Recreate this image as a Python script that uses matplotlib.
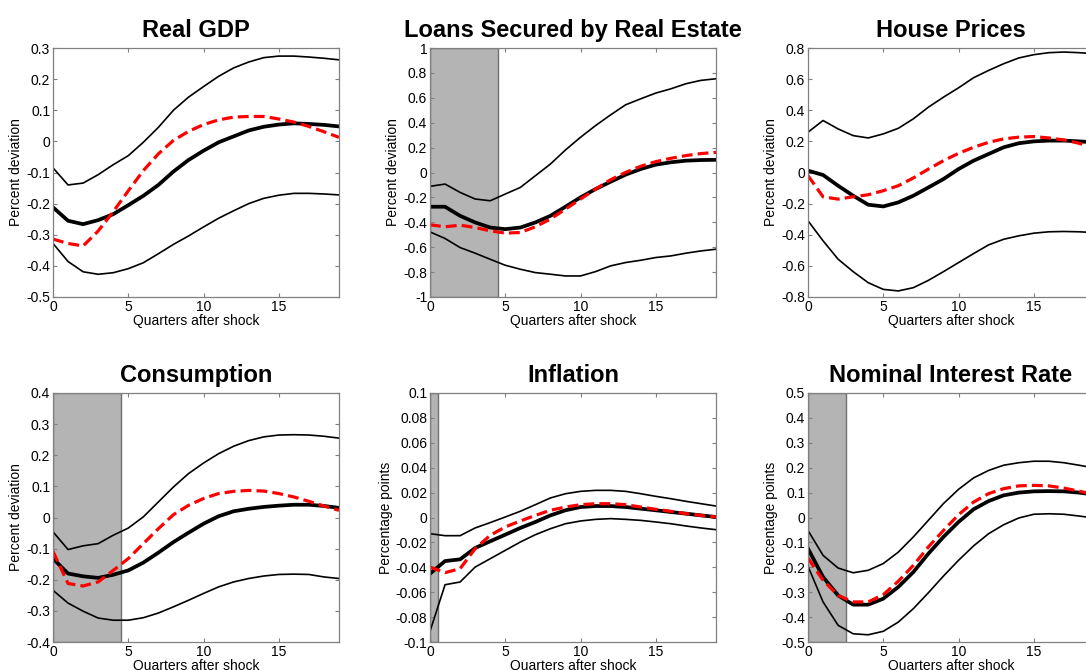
import numpy as np
import matplotlib
matplotlib.use('Agg')
import matplotlib.pyplot as plt

plt.rcParams['font.family'] = ['Liberation Sans', 'DejaVu Sans']

# -------------------------------
# Impulse responses, quarters 0..19
# thick = median, thin = bands, red dashed = alternative model
# -------------------------------
quarters = np.arange(20)

gdp_upper = [-0.085, -0.14, -0.134, -0.107, -0.075, -0.046, -0.003, 0.045, 0.10, 0.142,
             0.176, 0.209, 0.236, 0.255, 0.269, 0.274, 0.274, 0.271, 0.267, 0.262]
gdp_median = [-0.212, -0.255, -0.266, -0.253, -0.234, -0.205, -0.175, -0.14, -0.097, -0.06,
              -0.03, -0.003, 0.016, 0.035, 0.047, 0.054, 0.058, 0.056, 0.053, 0.048]
gdp_red = [-0.314, -0.328, -0.336, -0.288, -0.226, -0.159, -0.094, -0.04, 0.003, 0.032,
           0.054, 0.069, 0.078, 0.08, 0.08, 0.072, 0.062, 0.048, 0.031, 0.013]
gdp_lower = [-0.328, -0.386, -0.419, -0.427, -0.422, -0.409, -0.39, -0.361, -0.331, -0.304,
             -0.275, -0.247, -0.223, -0.2, -0.183, -0.173, -0.167, -0.167, -0.169, -0.172]

loans_upper = [-0.111, -0.093, -0.16, -0.213, -0.227, -0.173, -0.12, -0.026, 0.068, 0.181,
               0.283, 0.377, 0.463, 0.544, 0.592, 0.638, 0.672, 0.713, 0.74, 0.753]
loans_median = [-0.275, -0.275, -0.348, -0.401, -0.442, -0.455, -0.442, -0.401, -0.348, -0.275,
                -0.2, -0.133, -0.074, -0.017, 0.028, 0.063, 0.082, 0.095, 0.1, 0.102]
loans_red = [-0.42, -0.436, -0.423, -0.442, -0.468, -0.487, -0.482, -0.436, -0.374, -0.294,
             -0.213, -0.133, -0.058, 0.001, 0.05, 0.087, 0.114, 0.136, 0.152, 0.162]
loans_lower = [-0.477, -0.53, -0.603, -0.648, -0.697, -0.745, -0.777, -0.804, -0.817, -0.831,
               -0.831, -0.796, -0.75, -0.723, -0.705, -0.683, -0.67, -0.648, -0.63, -0.616]

house_upper = [0.259, 0.334, 0.28, 0.237, 0.222, 0.248, 0.284, 0.345, 0.42, 0.484,
               0.544, 0.609, 0.656, 0.699, 0.736, 0.757, 0.77, 0.774, 0.77, 0.763]
house_median = [0.012, -0.016, -0.085, -0.149, -0.207, -0.218, -0.192, -0.149, -0.096, -0.042,
                0.022, 0.076, 0.119, 0.162, 0.188, 0.2, 0.205, 0.205, 0.2, 0.194]
house_red = [-0.02, -0.156, -0.171, -0.156, -0.143, -0.117, -0.085, -0.035, 0.022, 0.076,
             0.123, 0.162, 0.194, 0.216, 0.227, 0.231, 0.222, 0.209, 0.188, 0.162]
house_lower = [-0.31, -0.439, -0.557, -0.637, -0.708, -0.751, -0.761, -0.74, -0.693, -0.637,
               -0.579, -0.521, -0.465, -0.429, -0.407, -0.39, -0.381, -0.379, -0.381, -0.386]

cons_upper = [-0.046, -0.103, -0.091, -0.084, -0.057, -0.034, 0.002, 0.05, 0.098, 0.141,
              0.175, 0.205, 0.229, 0.247, 0.259, 0.265, 0.266, 0.265, 0.261, 0.255]
cons_median = [-0.132, -0.18, -0.189, -0.194, -0.184, -0.17, -0.145, -0.113, -0.079, -0.049,
               -0.02, 0.004, 0.02, 0.028, 0.034, 0.038, 0.041, 0.041, 0.037, 0.031]
cons_red = [-0.109, -0.212, -0.22, -0.207, -0.17, -0.132, -0.084, -0.036, 0.009, 0.039,
            0.061, 0.077, 0.084, 0.087, 0.085, 0.077, 0.066, 0.052, 0.037, 0.023]
cons_lower = [-0.234, -0.275, -0.301, -0.323, -0.33, -0.33, -0.322, -0.307, -0.287, -0.266,
              -0.244, -0.223, -0.207, -0.196, -0.188, -0.183, -0.182, -0.183, -0.191, -0.196]

infl_upper = [-0.013, -0.0146, -0.0146, -0.0084, -0.0041, 0.0004, 0.005, 0.0103, 0.0157, 0.0191,
              0.021, 0.0218, 0.0218, 0.021, 0.0191, 0.017, 0.0151, 0.013, 0.0111, 0.0092]
infl_median = [-0.0451, -0.035, -0.0336, -0.0245, -0.0191, -0.0138, -0.0084, -0.0036, 0.0017, 0.0058,
               0.0084, 0.0092, 0.0092, 0.0084, 0.0071, 0.0058, 0.0044, 0.0031, 0.0017, 0.0004]
infl_red = [-0.0398, -0.0443, -0.0411, -0.025, -0.0143, -0.0076, -0.0028, 0.0017, 0.0058, 0.0084,
            0.0103, 0.0111, 0.0111, 0.0103, 0.0084, 0.0066, 0.005, 0.0031, 0.0017, 0.0004]
infl_lower = [-0.0914, -0.054, -0.0518, -0.0398, -0.0331, -0.0264, -0.0197, -0.0138, -0.009, -0.005,
              -0.0028, -0.0015, -0.0009, -0.0015, -0.0023, -0.0036, -0.005, -0.0068, -0.0084, -0.0098]

rate_upper = [-0.052, -0.152, -0.203, -0.222, -0.212, -0.185, -0.139, -0.078, -0.011, 0.056,
              0.113, 0.159, 0.189, 0.21, 0.22, 0.226, 0.226, 0.22, 0.21, 0.199]
rate_median = [-0.125, -0.239, -0.313, -0.35, -0.35, -0.326, -0.279, -0.219, -0.145, -0.078,
               -0.018, 0.033, 0.066, 0.089, 0.1, 0.105, 0.106, 0.105, 0.1, 0.092]
rate_red = [-0.163, -0.252, -0.313, -0.339, -0.339, -0.31, -0.256, -0.192, -0.118, -0.052,
            0.011, 0.062, 0.096, 0.116, 0.127, 0.129, 0.127, 0.118, 0.106, 0.092]
rate_lower = [-0.196, -0.339, -0.433, -0.467, -0.471, -0.457, -0.42, -0.366, -0.302, -0.235,
              -0.172, -0.114, -0.065, -0.029, -0.002, 0.013, 0.015, 0.013, 0.006, -0.002]

titles = ['Real GDP', 'Loans Secured by Real Estate', 'House Prices',
          'Consumption', 'Inflation', 'Nominal Interest Rate']
ylabels = ['Percent deviation', 'Percent deviation', 'Percent deviation',
           'Percent deviation', 'Percentage points', 'Percentage points']
ylims = [(-0.5, 0.3), (-1, 1), (-0.8, 0.8), (-0.4, 0.4), (-0.1, 0.1), (-0.5, 0.5)]
ysteps = [0.1, 0.2, 0.2, 0.1, 0.02, 0.1]
shade_end = [None, 4.5, None, 4.5, 0.5, 2.5]

series = [
    (gdp_upper, gdp_median, gdp_red, gdp_lower),
    (loans_upper, loans_median, loans_red, loans_lower),
    (house_upper, house_median, house_red, house_lower),
    (cons_upper, cons_median, cons_red, cons_lower),
    (infl_upper, infl_median, infl_red, infl_lower),
    (rate_upper, rate_median, rate_red, rate_lower),
]

# -------------------------------
# Layout (right column runs off the canvas, as in the source image)
# -------------------------------
fig = plt.figure(figsize=(10.86, 6.70), dpi=100)
lefts = [53, 430, 808]
tops = [48, 393]
ax_w, ax_h = 286, 249

for i, (upper, median, red, lower) in enumerate(series):
    row, col = divmod(i, 3)
    l = lefts[col] / 1086
    b = (670 - tops[row] - ax_h) / 670
    ax = fig.add_axes([l, b, ax_w / 1086, ax_h / 670])

    if shade_end[i] is not None:
        ax.axvspan(0, shade_end[i], facecolor='#b4b4b4', edgecolor='#707070',
                   linewidth=1.0, zorder=0)

    ax.plot(quarters, upper, color='black', linewidth=1.2)
    ax.plot(quarters, lower, color='black', linewidth=1.2)
    ax.plot(quarters, median, color='black', linewidth=2.7)
    ax.plot(quarters, red, color='#ff0000', linewidth=2.3, linestyle=(0, (3.4, 1.6)))

    ymin, ymax = ylims[i]
    ax.set_xlim(0, 19)
    ax.set_ylim(ymin, ymax)
    ax.set_xticks([0, 5, 10, 15])
    yt = np.round(np.arange(ymin, ymax + ysteps[i] / 2, ysteps[i]), 4) + 0.0
    ax.set_yticks(yt)
    ax.set_yticklabels(['%g' % v for v in yt])

    ax.tick_params(direction='in', length=3, width=0.8, color='#808080',
                   top=True, right=True, labelsize=10, pad=2)
    for s in ax.spines.values():
        s.set_color('#808080')
        s.set_linewidth(0.9)

    ax.set_title(titles[i], fontsize=17, fontweight='bold', pad=8)
    ax.set_xlabel('Quarters after shock', fontsize=10, labelpad=0)
    ax.set_ylabel(ylabels[i], fontsize=10, labelpad=2)

fig.savefig('out.png', dpi=100)
